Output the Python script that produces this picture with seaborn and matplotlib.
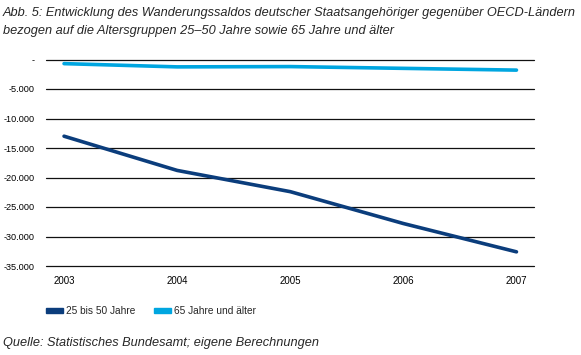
import pandas as pd
import numpy as np
import matplotlib.pyplot as plt
import seaborn as sns
from matplotlib.ticker import FuncFormatter
from matplotlib.patches import Patch

# Data
jahre = [2003, 2004, 2005, 2006, 2007]
saldo_25_50 = [-13000, -18800, -22400, -27800, -32600]
saldo_65_plus = [-700, -1250, -1200, -1500, -1800]
gruppen = ["25 bis 50 Jahre", "65 Jahre und älter"]
farben = ["#0b3d7c", "#00a6e0"]

df = pd.DataFrame({
    "Jahr": jahre * 2,
    "Saldo": saldo_25_50 + saldo_65_plus,
    "Gruppe": [gruppen[0]] * 5 + [gruppen[1]] * 5,
})

sns.set_style("white")
plt.rcParams["font.family"] = ["Liberation Sans", "DejaVu Sans"]

W, H = 581, 355
fig = plt.figure(figsize=(W / 100, H / 100), dpi=100)
ax = fig.add_axes([45.5 / W, 1 - 266 / H, (534 - 45.5) / W, (266 - 59.5) / H])

sns.lineplot(data=df, x="Jahr", y="Saldo", hue="Gruppe", palette=farben,
             linewidth=2.6, legend=False, ax=ax)

ax.set_xlim(2002.836, 2007.155)
ax.set_ylim(-35000, 0)
ax.set_xticks(jahre)
ax.set_yticks(np.arange(-35000, 1, 5000))
ax.yaxis.set_major_formatter(FuncFormatter(
    lambda v, p: "-" if v == 0 else f"{v:,.0f}".replace(",", ".")))
ax.grid(axis="y", color="#111111", linewidth=0.9)
ax.set_axisbelow(True)
for gl in ax.get_ygridlines():
    gl.set_clip_on(False)
for s in ax.spines.values():
    s.set_visible(False)
ax.tick_params(length=0, colors="black")
ax.tick_params(axis="x", labelsize=7, pad=7.5)
ax.tick_params(axis="y", labelsize=6.6, pad=7.5)
ax.set_xlabel("")
ax.set_ylabel("")

handles = [Patch(color=c, label=g) for c, g in zip(farben, gruppen)]
fig.legend(handles=handles, loc="center left", bbox_to_anchor=(46 / W, 1 - 311 / H),
           ncol=2, frameon=False, fontsize=7.3, handlelength=1.7, handleheight=0.5,
           handletextpad=0.3, columnspacing=1.8, borderpad=0, borderaxespad=0)

titel1 = fig.text(3 / W, 1 - 13 / H,
                  "Abb. 5: Entwicklung des Wanderungssaldos deutscher Staatsangehöriger gegenüber OECD-Ländern",
                  fontsize=9, style="italic", va="center")
titel2 = fig.text(3 / W, 1 - 31 / H,
                  "bezogen auf die Altersgruppen 25–50 Jahre sowie 65 Jahre und älter",
                  fontsize=9, style="italic", va="center")
quelle = fig.text(3 / W, 1 - 343 / H, "Quelle: Statistisches Bundesamt; eigene Berechnungen",
                  fontsize=9, style="italic", va="center")

# scale the italic texts so the first title line spans the figure width
r = fig.canvas.get_renderer()
size = 9 * 575 / titel1.get_window_extent(r).width
for t in (titel1, titel2, quelle):
    t.set_fontsize(size)

fig.savefig("out.png", dpi=100)
